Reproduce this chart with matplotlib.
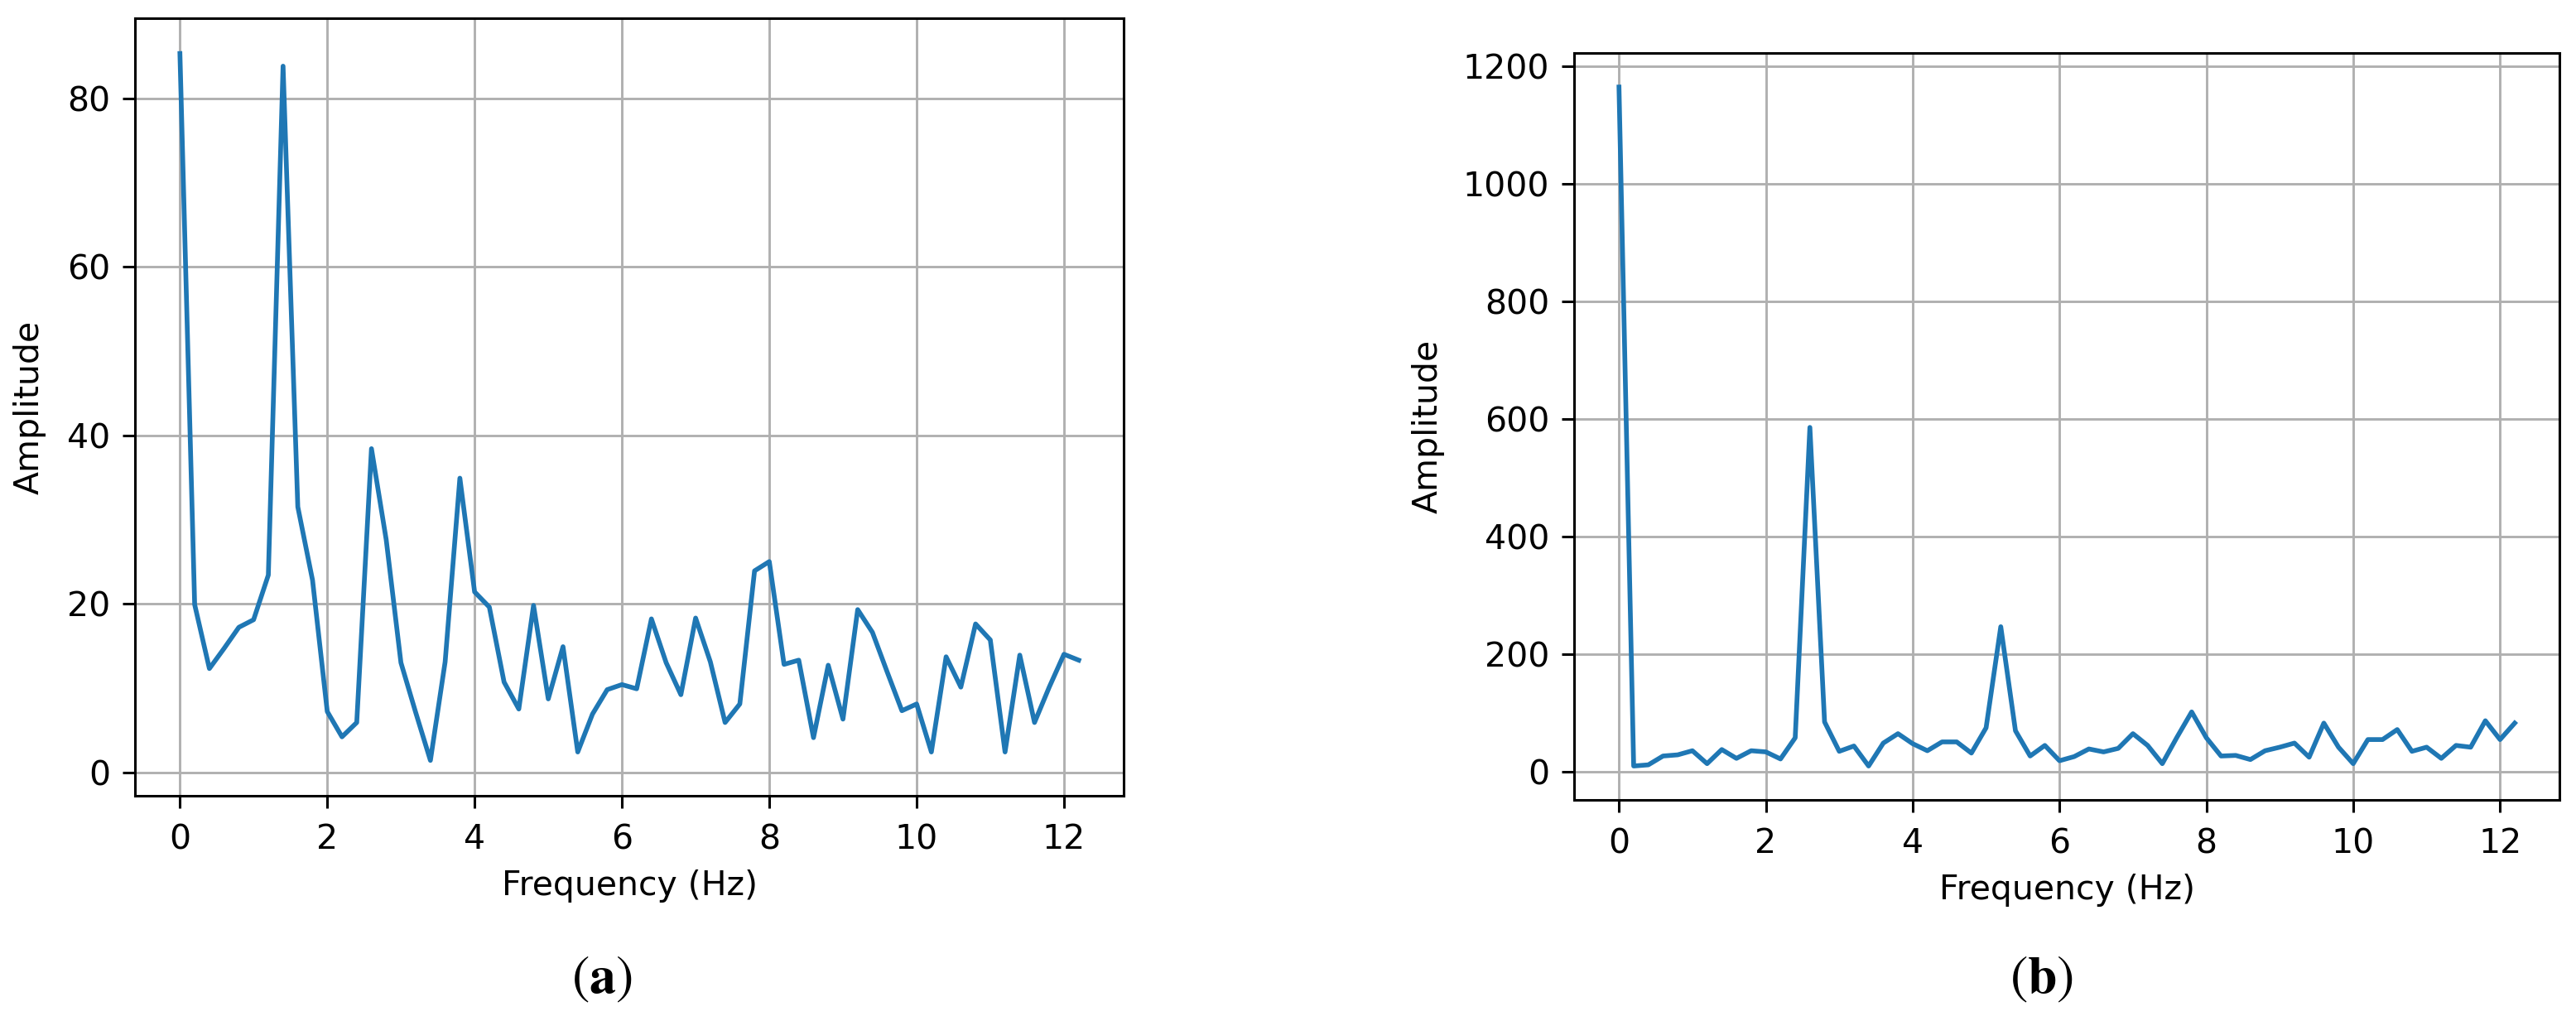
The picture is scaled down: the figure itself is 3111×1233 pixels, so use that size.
import numpy as np
import matplotlib
matplotlib.use('Agg')
import matplotlib.pyplot as plt

# frequency bins (Hz)
freq = [0.0, 0.2, 0.4, 0.6, 0.8, 1.0, 1.2, 1.4, 1.6, 1.8,
        2.0, 2.2, 2.4, 2.6, 2.8, 3.0, 3.2, 3.4, 3.6, 3.8,
        4.0, 4.2, 4.4, 4.6, 4.8, 5.0, 5.2, 5.4, 5.6, 5.8,
        6.0, 6.2, 6.4, 6.6, 6.8, 7.0, 7.2, 7.4, 7.6, 7.8,
        8.0, 8.2, 8.4, 8.6, 8.8, 9.0, 9.2, 9.4, 9.6, 9.8,
        10.0, 10.2, 10.4, 10.6, 10.8, 11.0, 11.2, 11.4, 11.6, 11.8,
        12.0, 12.2]

# panel (a) amplitudes
amp_a = [85.3, 19.9, 12.3, 14.7, 17.2, 18.1, 23.4, 83.8, 31.5, 22.8,
         7.2, 4.2, 5.9, 38.4, 27.6, 13.0, 7.1, 1.4, 13.1, 34.9,
         21.4, 19.6, 10.7, 7.5, 19.8, 8.7, 14.9, 2.4, 6.9, 9.8,
         10.4, 9.9, 18.2, 13.0, 9.2, 18.3, 13.1, 5.9, 8.1, 23.9,
         25.0, 12.8, 13.3, 4.1, 12.7, 6.3, 19.3, 16.6, 11.9, 7.3,
         8.1, 2.4, 13.7, 10.1, 17.6, 15.7, 2.4, 13.9, 5.9, 10.1,
         14.0, 13.3]

# panel (b) amplitudes
amp_b = [1165, 10, 12, 27, 29, 36, 14, 38, 23, 36,
         34, 22, 58, 586, 85, 35, 44, 10, 49, 65,
         48, 36, 51, 51, 32, 75, 247, 70, 27, 45,
         19, 26, 39, 34, 40, 65, 45, 14, 59, 102,
         58, 27, 28, 21, 36, 42, 49, 25, 83, 42,
         14, 55, 55, 72, 35, 42, 23, 45, 42, 87,
         55, 83]

xticks = [0, 2, 4, 6, 8, 10, 12]
yticks_a = [0, 20, 40, 60, 80]
yticks_b = [0, 200, 400, 600, 800, 1000, 1200]

# matplotlib defaults, blown up for the big canvas
fs = 29.5
plt.rcParams['font.family'] = ['DejaVu Sans']
plt.rcParams['font.size'] = fs
plt.rcParams['lines.linewidth'] = 4.1
plt.rcParams['axes.linewidth'] = 2.2
plt.rcParams['grid.linewidth'] = 2.1
plt.rcParams['grid.color'] = '#b0b0b0'
for ax_name in ['xtick', 'ytick']:
    plt.rcParams[ax_name + '.major.size'] = 11
    plt.rcParams[ax_name + '.major.width'] = 2.2
    plt.rcParams[ax_name + '.labelsize'] = fs
plt.rcParams['xtick.major.pad'] = 13
plt.rcParams['ytick.major.pad'] = 10.5
plt.rcParams['mathtext.fontset'] = 'stix'

fig = plt.figure(figsize=(31.11, 12.33), dpi=100)

ax1 = fig.add_axes([0.0524, 0.2206, 0.3838, 0.7616])
ax1.plot(freq, amp_a, color='#1f77b4')
ax1.set_xticks(xticks)
ax1.set_yticks(yticks_a)
ax1.grid(True)
ax1.set_xlabel('Frequency (Hz)', labelpad=11)
ax1.set_ylabel('Amplitude', labelpad=18)

ax2 = fig.add_axes([0.6111, 0.2165, 0.3825, 0.7315])
ax2.plot(freq, amp_b, color='#1f77b4')
ax2.set_xticks(xticks)
ax2.set_yticks(yticks_b)
ax2.grid(True)
ax2.set_xlabel('Frequency (Hz)', labelpad=11)
ax2.set_ylabel('Amplitude', labelpad=16)

# sub-figure captions
fig.text(0.2337, 0.0406, r'($\mathbf{a}$)', family='STIXGeneral',
         fontsize=46, ha='center', va='center')
fig.text(0.7924, 0.0406, r'($\mathbf{b}$)', family='STIXGeneral',
         fontsize=46, ha='center', va='center')

fig.savefig('out.png', dpi=100)
